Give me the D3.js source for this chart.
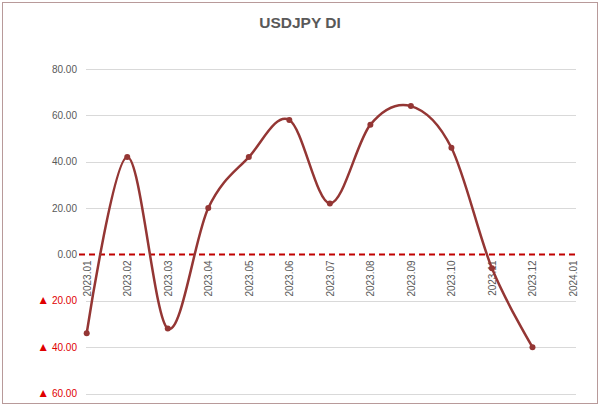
<!DOCTYPE html>
<html>
<head>
<meta charset="utf-8">
<script src="https://cdn.jsdelivr.net/npm/d3@7"></script>
<style>
body { margin: 0; background: #fff; }
svg { display: block; font-family: "Liberation Sans", Arial, sans-serif; }
</style>
</head>
<body>
<script>
// monthly DI values, last month has no value yet
var months = ["2023.01","2023.02","2023.03","2023.04","2023.05","2023.06","2023.07",
              "2023.08","2023.09","2023.10","2023.11","2023.12","2024.01"];
var di = [-34, 42, -32, 20, 42, 58, 22, 56, 64, 46, -6, -40];
var yTicks = [80, 60, 40, 20, 0, -20, -40, -60];

var width = 600, height = 406;
var font = "Liberation Sans, Arial, sans-serif";

var svg = d3.select("body").append("svg")
  .attr("width", width)
  .attr("height", height);

// chart frame
svg.append("rect")
  .attr("x", 2.5).attr("y", 2.5)
  .attr("width", 595).attr("height", 401)
  .attr("fill", "#fff")
  .attr("stroke", "#b89a9a");

svg.append("text")
  .attr("x", 300).attr("y", 28)
  .attr("text-anchor", "middle")
  .attr("font-size", 15.5)
  .attr("font-weight", "bold")
  .attr("fill", "#595959")
  .text("USDJPY DI");

var x = d3.scalePoint()
  .domain(months)
  .range([86.7, 573]);

var y = d3.scaleLinear()
  .domain([-60, 80])
  .range([393.5, 69]);

// grid + y labels (negatives shown as red triangle + abs value)
var yAxis = d3.axisLeft(y)
  .tickValues(yTicks)
  .tickSize(0)
  .tickPadding(9)
  .tickFormat(function(d) { return d3.format(".2f")(Math.abs(d)); });

var ya = svg.append("g")
  .attr("transform", "translate(86,0)")
  .call(yAxis)
  .attr("font-family", font);
ya.select(".domain").remove();
ya.selectAll("text")
  .attr("font-size", 10)
  .attr("fill", function(d) { return d < 0 ? "#e00000" : "#595959"; });
ya.selectAll(".tick").filter(function(d) { return d < 0; })
  .select("text")
  .each(function(d) {
    var t = d3.select(this), s = t.text();
    t.text(null);
    t.append("tspan").attr("font-size", 12).text("\u25B2");
    t.append("tspan").text(" " + s);
  });

svg.append("g").selectAll("line")
  .data(yTicks.filter(function(d) { return d !== 0; }))
  .enter().append("line")
  .attr("x1", 86).attr("x2", 576)
  .attr("y1", function(d) { return Math.round(y(d)) + 0.5; })
  .attr("y2", function(d) { return Math.round(y(d)) + 0.5; })
  .attr("stroke", "#d9d9d9");

// zero line
svg.append("line")
  .attr("x1", 79).attr("x2", 579)
  .attr("y1", y(0)).attr("y2", y(0))
  .attr("stroke", "#c00000")
  .attr("stroke-width", 2)
  .attr("stroke-dasharray", "6,4");

// rotated month labels under the zero line
var xAxis = d3.axisBottom(x).tickSize(0).tickPadding(0);
var xa = svg.append("g")
  .attr("transform", "translate(0," + y(0) + ")")
  .call(xAxis)
  .attr("font-family", font);
xa.select(".domain").remove();
xa.selectAll("text")
  .attr("font-size", 10)
  .attr("fill", "#595959")
  .attr("text-anchor", "end")
  .attr("transform", "rotate(-90)")
  .attr("x", -6)
  .attr("y", 0)
  .attr("dy", "0.35em");

var pts = di.map(function(v, i) { return [x(months[i]), y(v)]; });

svg.append("path")
  .datum(pts)
  .attr("fill", "none")
  .attr("stroke", "#943634")
  .attr("stroke-width", 2.5)
  .attr("d", d3.line().curve(d3.curveCardinal.tension(0)));

svg.append("g").selectAll("circle")
  .data(pts)
  .enter().append("circle")
  .attr("cx", function(d) { return d[0]; })
  .attr("cy", function(d) { return d[1]; })
  .attr("r", 3)
  .attr("fill", "#943634");
</script>
</body>
</html>
